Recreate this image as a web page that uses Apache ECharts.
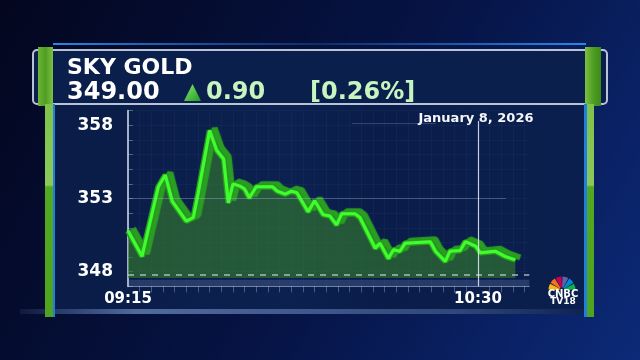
<!DOCTYPE html>
<html>
<head>
<meta charset="utf-8">
<script src="https://cdn.jsdelivr.net/npm/echarts@6/dist/echarts.min.js"></script>
<style>html,body{margin:0;padding:0;background:#040826;}#c{width:640px;height:360px;}</style>
</head>
<body>
<div id="c"></div>
<script>
// ---- data (minutes after 09:15, price) ----
const minutes = [0,3,6.5,8,9.5,12.5,14,15,17.5,19,20.5,21.5,22.5,24,25,26,27.5,31,32,33.7,35,36.2,38.6,40,41.8,43.3,44.7,45.8,48.7,49.7,53,54,55.8,56.9,58.3,59.4,64.8,65.9,68,69,71.2,72.3,74.5,75.5,78.7,80.8,83];
const prices = [350.8,349.05,353.8,354.6,352.8,351.45,351.7,353.3,357.65,356.3,355.7,352.7,354.0,353.85,353.65,353.05,353.8,353.8,353.5,353.3,353.5,353.4,352.1,352.85,351.9,351.8,351.2,351.95,351.95,351.7,349.6,349.95,348.9,349.5,349.4,349.95,350.05,349.4,348.7,349.4,349.45,350.05,349.75,349.3,349.4,349.05,348.8];
const yTickLabels = [348, 353, 358];
const xTickLabels = ['09:15', '10:30'];
const startHour = 9, startMin = 15;
const prevCloseLine = 347.77;
const markerMinute = 75;
const title = 'SKY GOLD';
const lastPrice = '349.00';
const change = '0.90';
const changePct = '[0.26%]';
const dateText = 'January 8, 2026';

const seriesData = minutes.map((m, i) => [m, prices[i]]);

function fmtTime(v) {
  const t = startHour * 60 + startMin + Math.round(v);
  const h = Math.floor(t / 60), mm = t % 60;
  return String(h).padStart(2, '0') + ':' + String(mm).padStart(2, '0');
}

const chart = echarts.init(document.getElementById('c'), null, {renderer: 'canvas'});
const FONT = '"DejaVu Sans", sans-serif';

const feathers = ['#fcb711', '#f37021', '#cc004c', '#6460aa', '#0089d0', '#0db14b'];
const logo = feathers.map((c, i) => ({
  type: 'sector',
  shape: {cx: 562, cy: 290, r0: 2.5, r: 13.5,
    startAngle: Math.PI + i * Math.PI / 6 + 0.04,
    endAngle: Math.PI + (i + 1) * Math.PI / 6 - 0.04},
  style: {fill: c}, z: 10
}));

option = {
  animation: false,
  backgroundColor: 'transparent',
  graphic: [
    {type: 'rect', shape: {x: 0, y: 0, width: 640, height: 360}, z: -10,
      style: {fill: new echarts.graphic.LinearGradient(0, 0, 1, 1, [
        {offset: 0, color: '#03061e'}, {offset: 0.55, color: '#061446'}, {offset: 1, color: '#0c2a78'}])}},
    {type: 'rect', shape: {x: 53, y: 104, width: 534, height: 210}, z: -9,
      style: {fill: new echarts.graphic.LinearGradient(0, 0, 1, 0, [
        {offset: 0, color: '#0a1c47'}, {offset: 0.45, color: '#0c2150'}, {offset: 0.6, color: '#0a1d4a'}, {offset: 1, color: '#0b1f4e'}])}},
    {type: 'rect', shape: {x: 20, y: 309, width: 580, height: 5}, z: -8,
      style: {fill: new echarts.graphic.LinearGradient(0, 0, 1, 0, [
        {offset: 0, color: 'rgba(120,150,210,0.1)'}, {offset: 0.2, color: 'rgba(140,170,225,0.55)'}, {offset: 0.75, color: 'rgba(120,150,210,0.35)'}, {offset: 1, color: 'rgba(120,150,210,0)'}])}},
    {type: 'rect', shape: {x: 53, y: 43, width: 533, height: 2}, z: -8,
      style: {fill: new echarts.graphic.LinearGradient(0, 0, 1, 0, [
        {offset: 0, color: '#2a86e8'}, {offset: 0.5, color: 'rgba(40,110,210,0.3)'}, {offset: 1, color: '#2a86e8'}])}},
    {type: 'rect', shape: {x: 33, y: 50, width: 574, height: 54, r: 4}, z: -7,
      style: {fill: '#0a1f4b', stroke: 'rgba(215,225,240,0.85)', lineWidth: 2}},
    {type: 'rect', shape: {x: 38, y: 47, width: 15, height: 59}, z: -6,
      style: {fill: new echarts.graphic.LinearGradient(0, 0, 1, 0, [
        {offset: 0, color: '#6db33a'}, {offset: 0.5, color: '#4f9e22'}, {offset: 1, color: '#7fbf45'}])}},
    {type: 'rect', shape: {x: 45, y: 104, width: 8, height: 213}, z: -6,
      style: {fill: new echarts.graphic.LinearGradient(0, 0, 0, 1, [
        {offset: 0, color: '#7fc24a'}, {offset: 0.38, color: '#8cc85c'}, {offset: 0.39, color: '#53a823'}, {offset: 1, color: '#4fa31e'}])}},
    {type: 'rect', shape: {x: 53, y: 104, width: 2, height: 213}, z: -6, style: {fill: '#1f7fdc'}},
    {type: 'rect', shape: {x: 585, y: 47, width: 16, height: 59}, z: -6,
      style: {fill: new echarts.graphic.LinearGradient(0, 0, 1, 0, [
        {offset: 0, color: '#7fbf45'}, {offset: 0.5, color: '#4f9e22'}, {offset: 1, color: '#3d8a1a'}])}},
    {type: 'rect', shape: {x: 587, y: 104, width: 7, height: 213}, z: -6,
      style: {fill: new echarts.graphic.LinearGradient(0, 0, 0, 1, [
        {offset: 0, color: '#7fc24a'}, {offset: 0.38, color: '#8cc85c'}, {offset: 0.39, color: '#53a823'}, {offset: 1, color: '#4fa31e'}])}},
    {type: 'rect', shape: {x: 584, y: 104, width: 3, height: 213}, z: -6, style: {fill: '#1f7fdc'}},
    {type: 'text', x: 67, y: 68.5, z: 5, style: {text: title, font: 'bold 22px ' + FONT, fill: '#ffffff', verticalAlign: 'middle', align: 'left'}},
    {type: 'text', x: 67, y: 92.5, z: 5, style: {text: lastPrice, font: 'bold 24px ' + FONT, fill: '#ffffff', verticalAlign: 'middle', align: 'left'}},
    {type: 'polygon', z: 5, shape: {points: [[184, 101], [192.5, 84], [201, 101]]},
      style: {fill: new echarts.graphic.LinearGradient(0, 0, 1, 1, [
        {offset: 0, color: '#8fe874'}, {offset: 1, color: '#1d9a22'}])}},
    {type: 'text', x: 206, y: 92.5, z: 5, style: {text: change, font: 'bold 24px ' + FONT, fill: '#c6f5bf', verticalAlign: 'middle', align: 'left'}},
    {type: 'text', x: 310, y: 92.5, z: 5, style: {text: changePct, font: 'bold 24px ' + FONT, fill: '#c6f5bf', verticalAlign: 'middle', align: 'left'}},
    {type: 'text', x: 476, y: 119, z: 5, style: {text: dateText, font: 'bold 13px ' + FONT, fill: '#f4f6fa', verticalAlign: 'middle', align: 'center'}},
    ...logo,
    {type: 'text', x: 563, y: 294.5, z: 10, style: {text: 'CNBC', font: 'bold 10px ' + FONT, fill: '#ffffff', verticalAlign: 'middle', align: 'center'}},
    {type: 'text', x: 563, y: 302, z: 10, style: {text: 'TV18', font: 'bold 9px ' + FONT, fill: '#ffffff', verticalAlign: 'middle', align: 'center'}}
  ],
  grid: {left: 128, right: 110.7, top: 110.7, bottom: 73.7, containLabel: false},
  xAxis: {
    type: 'value', min: 0, max: 86, interval: 75,
    axisLine: {show: true, lineStyle: {color: 'rgba(190,205,235,0.55)', width: 1}},
    axisTick: {show: false},
    minorTick: {show: true, splitNumber: 30, length: 6, lineStyle: {color: 'rgba(190,205,235,0.35)'}},
    splitLine: {show: false},
    minorSplitLine: {show: true, lineStyle: {color: 'rgba(140,165,220,0.05)'}},
    axisLabel: {
      showMaxLabel: false, margin: 5, color: '#ffffff', fontFamily: FONT, fontWeight: 'bold', fontSize: 15,
      formatter: v => { const s = fmtTime(v); return xTickLabels.includes(s) ? s : ''; }
    }
  },
  yAxis: {
    type: 'value', min: 347, max: 359, interval: 1,
    axisLine: {show: true, lineStyle: {color: 'rgba(215,225,240,0.75)', width: 2}},
    axisTick: {show: true, inside: true, length: 5, lineStyle: {color: 'rgba(200,215,240,0.35)'}},
    splitLine: {show: true, lineStyle: {color: 'rgba(140,165,220,0.05)'}},
    axisLabel: {
      margin: 15, color: '#ffffff', fontFamily: FONT, fontWeight: 'bold', fontSize: 17,
      formatter: v => yTickLabels.includes(Math.round(v * 100) / 100) ? String(v) : ''
    }
  },
  series: [
    {
      // area + back edge of 3D ribbon
      type: 'line', data: seriesData, symbol: 'none', silent: true, z: 2,
      lineStyle: {color: '#238f1d', width: 6, shadowColor: '#2a9e22', shadowBlur: 1, shadowOffsetX: 5, shadowOffsetY: -2.5},
      areaStyle: {origin: 347.57, color: 'rgba(50,122,44,0.9)'},
      markArea: {silent: true, itemStyle: {color: 'rgba(140,165,215,0.22)'},
        data: [[{yAxis: 347}, {yAxis: 347.45}]]},
      markLine: {
        silent: true, symbol: 'none', label: {show: false},
        data: [
          [{coord: [0, 353], lineStyle: {color: 'rgba(170,190,230,0.35)', width: 1, type: 'solid'}}, {coord: [81, 353]}],
          [{coord: [48, 358.12], lineStyle: {color: 'rgba(170,190,230,0.25)', width: 1, type: 'solid'}}, {coord: [66, 358.12]}],
          [{coord: [0, prevCloseLine], lineStyle: {color: 'rgba(200,215,210,0.8)', width: 1.5, type: [6, 6]}}, {coord: [86, prevCloseLine]}],
          [{coord: [markerMinute, 358.3], lineStyle: {color: 'rgba(230,236,248,0.85)', width: 1.2, type: 'solid'}}, {coord: [markerMinute, 347]}]
        ]
      }
    },
    {
      // bright front line
      type: 'line', data: seriesData, symbol: 'none', silent: true, z: 3,
      lineStyle: {color: '#3dff2c', width: 3, shadowColor: 'rgba(120,255,90,0.5)', shadowBlur: 2}
    }
  ]
};
chart.setOption(option);
</script>
</body>
</html>
